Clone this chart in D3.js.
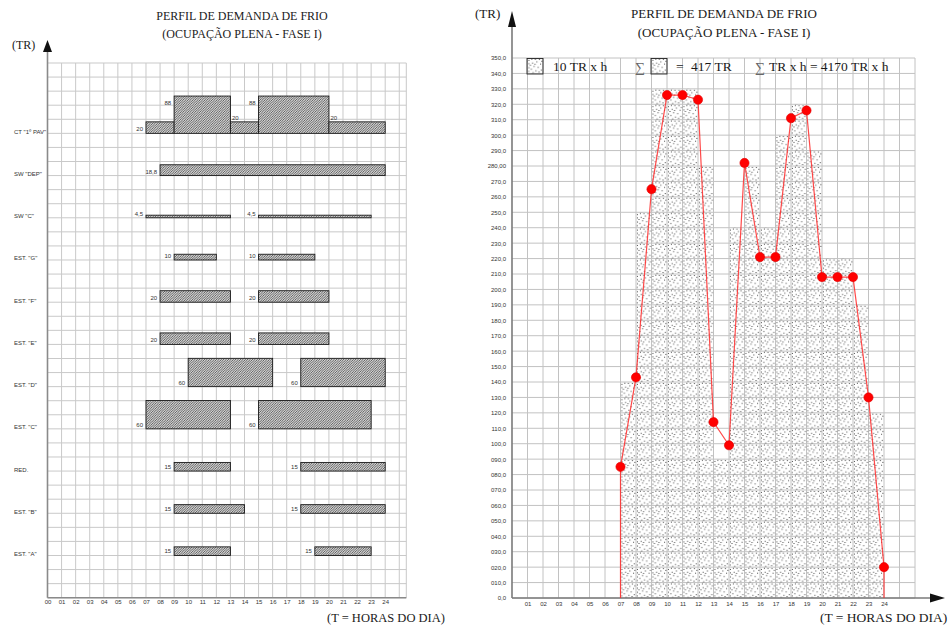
<!DOCTYPE html>
<html>
<head>
<meta charset="utf-8">
<script src="https://cdn.jsdelivr.net/npm/d3@7"></script>
<style>
body { margin: 0; background: #fff; }
svg { display: block; }
.serif { font-family: "Liberation Serif", "Times New Roman", serif; fill: #1a1a1a; }
.tiny { font-family: "Liberation Sans", Arial, sans-serif; font-size: 6px; fill: #333; }
</style>
</head>
<body>
<div id="chart"></div>
<script>
const titleLines = ["PERFIL DE DEMANDA DE FRIO", "(OCUPAÇÃO PLENA - FASE I)"]
const xTitle = "(T = HORAS DO DIA)"
const yTitle = "(TR)"

// left panel: loads per equipment, [from hour, to hour, TR]
const loadNames = ['CT "1º PAV"', 'SW "DEP"', 'SW "C"', 'EST. "G"', 'EST. "F"', 'EST. "E"', 'EST. "D"', 'EST. "C"', 'RED.', 'EST. "B"', 'EST. "A"']
const loadSegments = [
    [[7, 9, 20], [9, 13, 88], [13, 15, 20], [15, 20, 88], [20, 24, 20]],
    [[8, 24, 18.8]],
    [[7, 13, 4.5], [15, 23, 4.5]],
    [[9, 12, 10], [15, 19, 10]],
    [[8, 13, 20], [15, 20, 20]],
    [[8, 13, 20], [15, 20, 20]],
    [[10, 16, 60], [18, 24, 60]],
    [[7, 13, 60], [15, 23, 60]],
    [[9, 13, 15], [18, 24, 15]],
    [[9, 14, 15], [18, 24, 15]],
    [[9, 13, 15], [19, 23, 15]]
]
const leftHourLabels = ["00", "01", "02", "03", "04", "05", "06", "07", "08", "09", "10", "11", "12",
    "13", "14", "15", "16", "17", "18", "19", "20", "21", "22", "23", "24"]

// right panel: hourly demand profile
const demandHours = [7, 8, 9, 10, 11, 12, 13, 14, 15, 16, 17, 18, 19, 20, 21, 22, 23, 24]
const demandTR = [85, 143, 265, 326, 326, 323, 114, 99, 282, 221, 221, 311, 316, 208, 208, 208, 130, 20]
// stippled blocks of 10 TR x h, one column per hour
const blockHours = [7, 8, 9, 10, 11, 12, 13, 14, 15, 16, 17, 18, 19, 20, 21, 22, 23]
const blockTR = [140, 250, 330, 330, 330, 280, 90, 240, 280, 240, 300, 320, 290, 220, 220, 190, 120]
const rightHourLabels = ["01", "02", "03", "04", "05", "06", "07", "08", "09", "10", "11", "12",
    "13", "14", "15", "16", "17", "18", "19", "20", "21", "22", "23", "24"]
const trTicks = [0, 10, 20, 30, 40, 50, 60, 70, 80, 90, 100, 110, 120, 130, 140, 150, 160, 170, 180,
    190, 200, 210, 220, 230, 240, 250, 260, 270, 280, 290, 300, 310, 320, 330, 340, 350]
const trTickLabels = ["0,0", "010,0", "020,0", "030,0", "040,0", "050,0", "060,0", "070,0", "080,0", "090,0",
    "100,0", "110,0", "120,0", "130,0", "140,0", "150,0", "160,0", "170,0", "180,0", "190,0", "200,0",
    "210,0", "220,0", "230,0", "240,0", "250,0", "260,0", "270,0", "280,00", "290,0", "300,0", "310,0",
    "320,0", "330,0", "340,0", "350,0"]
const legendTexts = ["10 TR x h", "=", "417 TR", "TR x h = 4170 TR x h"]

const width = 950, height = 628
const svg = d3.select("#chart").append("svg").attr("width", width).attr("height", height)
const defs = svg.append("defs")

const comma = v => String(v).replace(".", ",")

// ---------- left panel ----------
const xL = d3.scaleLinear().domain([0, 24]).range([47.5, 385.2])
const yU = d3.scaleLinear().domain([0, 38]).range([597.7, 63])
const rowY = d3.scalePoint().domain(loadNames).range([yU(33), yU(3)])
const barH = d3.scaleLinear().domain([0, 20, 60, 88]).range([0, 11.5, 28.3, 37.3])

const hatch = defs.append("pattern").attr("id", "hatch")
    .attr("patternUnits", "userSpaceOnUse").attr("width", 2.4).attr("height", 2.4)
hatch.append("rect").attr("width", 2.4).attr("height", 2.4).attr("fill", "#d4d4d4")
hatch.append("path").attr("d", "M0,2.4L2.4,0M-1,1L1,-1M1.4,3.4L3.4,1.4")
    .attr("stroke", "#3c3c3c").attr("stroke-width", 0.75)

const left = svg.append("g")
const gridL = left.append("g").attr("stroke", "#c9c9c9").attr("stroke-width", 1)
gridL.selectAll("line.h").data(d3.range(0, 39)).enter().append("line")
    .attr("x1", xL(0)).attr("x2", xL(25.5)).attr("y1", d => yU(d)).attr("y2", d => yU(d))
gridL.selectAll("line.v").data(d3.range(1, 26).concat([25.5])).enter().append("line")
    .attr("x1", d => xL(d)).attr("x2", d => xL(d)).attr("y1", yU(0)).attr("y2", yU(38))

loadSegments.forEach((segs, i) => {
    const base = rowY(loadNames[i])
    const g = left.append("g")
    g.selectAll("rect").data(segs).enter().append("rect")
        .attr("x", d => xL(d[0]))
        .attr("y", d => base - barH(d[2]))
        .attr("width", d => xL(d[1]) - xL(d[0]))
        .attr("height", d => barH(d[2]))
        .attr("fill", "url(#hatch)")
        .attr("stroke", "#1a1a1a").attr("stroke-width", 0.9)
    g.selectAll("text").data(segs).enter().append("text")
        .attr("class", "tiny")
        .each(function (d) {
            const prev = segs.find(s => s[1] === d[0])
            const top = base - barH(d[2])
            const t = d3.select(this)
            if (prev && prev[2] > d[2]) {
                t.attr("x", xL(d[0]) + 1.5).attr("y", top - 1.5).attr("text-anchor", "start")
            } else if (prev) {
                t.attr("x", xL(d[0]) - 3).attr("y", top + 9).attr("text-anchor", "end")
            } else {
                t.attr("x", xL(d[0]) - 3).attr("y", base - 2).attr("text-anchor", "end")
            }
        })
        .text(d => comma(d[2]))
    left.append("text").attr("class", "tiny").attr("x", 14).attr("y", base + 0.5).text(loadNames[i])
})

left.append("g").attr("transform", `translate(0,${yU(0)})`)
    .call(d3.axisBottom(xL).tickValues(d3.range(0, 25)).tickFormat((d, i) => leftHourLabels[i]).tickSize(0).tickPadding(2))
    .call(g => g.select(".domain").remove())
    .call(g => g.selectAll("text").attr("class", "tiny").attr("fill", null).attr("font-size", null).attr("font-family", null))

left.append("line").attr("x1", xL(0)).attr("x2", xL(25.5)).attr("y1", yU(0)).attr("y2", yU(0))
    .attr("stroke", "#8a8a8a").attr("stroke-width", 1.6)
left.append("line").attr("x1", xL(0)).attr("x2", xL(0)).attr("y1", yU(0)).attr("y2", 50)
    .attr("stroke", "#8a8a8a").attr("stroke-width", 1.6)
left.append("path").attr("d", `M${xL(0)},40L${xL(0) - 4.5},52L${xL(0) + 4.5},52Z`).attr("fill", "#111")

left.append("text").attr("class", "serif").attr("font-size", 12).attr("x", 12).attr("y", 49).text(yTitle)
left.selectAll("text.title").data(titleLines).enter().append("text")
    .attr("class", "serif").attr("font-size", 12).attr("text-anchor", "middle")
    .attr("x", 242).attr("y", (d, i) => 20 + i * 17.5).text(d => d)
left.append("text").attr("class", "serif").attr("font-size", 12.5).attr("x", 327).attr("y", 622).text(xTitle)

// ---------- right panel ----------
const xR = d3.scaleLinear().domain([0, 24]).range([512, 884])
const yR = d3.scaleLinear().domain([0, 350]).range([598, 58])

const cellW = xR(1) - xR(0), cellH = yR(0) - yR(10)
const stip = defs.append("pattern").attr("id", "stipple")
    .attr("patternUnits", "userSpaceOnUse")
    .attr("x", xR(0)).attr("y", yR(0)).attr("width", cellW).attr("height", cellH)
const dots = [[0.06, 0.12], [0.06, 0.34], [0.07, 0.6], [0.05, 0.84], [0.25, 0.05], [0.48, 0.06], [0.74, 0.07],
    [0.3, 0.3], [0.58, 0.22], [0.82, 0.36], [0.4, 0.52], [0.66, 0.58], [0.22, 0.7], [0.52, 0.8], [0.86, 0.76],
    [0.34, 0.92], [0.16, 0.44], [0.72, 0.88], [0.9, 0.18], [0.46, 0.38]]
stip.selectAll("rect").data(dots).enter().append("rect")
    .attr("x", d => d[0] * cellW).attr("y", d => d[1] * cellH)
    .attr("width", 0.9).attr("height", 0.9).attr("fill", "#1a1a1a")

const right = svg.append("g")
const gridR = right.append("g").attr("stroke", "#c2c2c2").attr("stroke-width", 1)
gridR.selectAll("line.h").data(trTicks).enter().append("line")
    .attr("x1", xR(0)).attr("x2", xR(26)).attr("y1", d => yR(d)).attr("y2", d => yR(d))
gridR.selectAll("line.v").data(d3.range(1, 27)).enter().append("line")
    .attr("x1", d => xR(d)).attr("x2", d => xR(d)).attr("y1", yR(0)).attr("y2", yR(350))

right.append("g").selectAll("rect").data(blockHours).enter().append("rect")
    .attr("x", d => xR(d))
    .attr("y", (d, i) => yR(blockTR[i]))
    .attr("width", d => xR(d + 1) - xR(d))
    .attr("height", (d, i) => yR(0) - yR(blockTR[i]))
    .attr("fill", "url(#stipple)")

right.append("g").attr("transform", `translate(${xR(0)},0)`)
    .call(d3.axisLeft(yR).tickValues(trTicks).tickFormat((d, i) => trTickLabels[i]).tickSize(0).tickPadding(6))
    .call(g => g.select(".domain").remove())
    .call(g => g.selectAll("text").attr("class", "tiny").attr("fill", null).attr("font-size", null).attr("font-family", null))
right.append("g").attr("transform", `translate(0,${yR(0)})`)
    .call(d3.axisBottom(xR).tickValues(d3.range(1, 25)).tickFormat((d, i) => rightHourLabels[i]).tickSize(0).tickPadding(4))
    .call(g => g.select(".domain").remove())
    .call(g => g.selectAll("text").attr("class", "tiny").attr("fill", null).attr("font-size", null).attr("font-family", null))

right.append("line").attr("x1", xR(0)).attr("x2", 932).attr("y1", yR(0)).attr("y2", yR(0))
    .attr("stroke", "#7a7a7a").attr("stroke-width", 1.6)
right.append("path").attr("d", `M945,${yR(0)}L930,${yR(0) - 4.5}L930,${yR(0) + 4.5}Z`).attr("fill", "#111")
right.append("line").attr("x1", xR(0)).attr("x2", xR(0)).attr("y1", yR(0)).attr("y2", 24)
    .attr("stroke", "#7a7a7a").attr("stroke-width", 1.6)
right.append("path").attr("d", `M${xR(0)},11L${xR(0) - 4},27L${xR(0) + 4},27Z`).attr("fill", "#111")

// demand curve
const pts = [[demandHours[0], 0]].concat(demandHours.map((h, i) => [h, demandTR[i]]),
    [[demandHours[demandHours.length - 1], 0]])
right.append("path").datum(pts)
    .attr("d", d3.line().x(d => xR(d[0])).y(d => yR(d[1])))
    .attr("fill", "none").attr("stroke", "#ff2a2a").attr("stroke-width", 1.2).attr("opacity", 0.85)
right.append("g").selectAll("circle").data(demandHours).enter().append("circle")
    .attr("cx", d => xR(d)).attr("cy", (d, i) => yR(demandTR[i])).attr("r", 4.6)
    .attr("fill", "#ff0000").attr("stroke", "#e00000").attr("stroke-width", 0.6)

// legend
const leg = right.append("g")
const keyBox = x => leg.append("rect").attr("x", x).attr("y", 58.5).attr("width", 16).attr("height", 15.5)
    .attr("fill", "url(#stipple)").attr("stroke", "#222").attr("stroke-width", 0.9)
keyBox(527)
keyBox(651)
leg.append("text").attr("class", "serif").attr("font-size", 13.5).attr("x", 553).attr("y", 71).text(legendTexts[0])
leg.append("text").attr("class", "serif").attr("font-size", 14).attr("x", 635).attr("y", 71.5).style("fill", "#666").text("∑")
leg.append("text").attr("class", "serif").attr("font-size", 13.5).attr("x", 676).attr("y", 71).text(legendTexts[1])
leg.append("text").attr("class", "serif").attr("font-size", 13.5).attr("x", 691).attr("y", 71).text(legendTexts[2])
leg.append("text").attr("class", "serif").attr("font-size", 14).attr("x", 755).attr("y", 71.5).style("fill", "#666").text("∑")
leg.append("text").attr("class", "serif").attr("font-size", 13.5).attr("x", 769).attr("y", 71).text(legendTexts[3])

right.append("text").attr("class", "serif").attr("font-size", 13).attr("x", 475).attr("y", 18).text(yTitle)
right.selectAll("text.title").data(titleLines).enter().append("text")
    .attr("class", "serif").attr("font-size", 13).attr("text-anchor", "middle")
    .attr("x", 724).attr("y", (d, i) => 18 + i * 19).text(d => d)
right.append("text").attr("class", "serif").attr("font-size", 13.5).attr("x", 820).attr("y", 622).text(xTitle)
</script>
</body>
</html>
